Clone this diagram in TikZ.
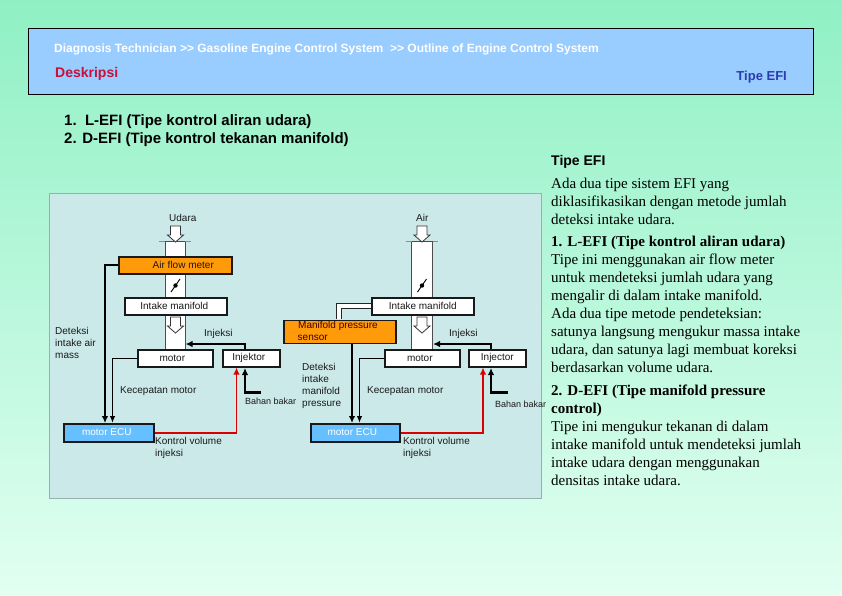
\documentclass[tikz,border=0pt]{standalone}
\usepackage{fontspec}
\setmainfont{Liberation Sans}
\newfontfamily\serifF{Liberation Serif}
\usetikzlibrary{arrows.meta,positioning,calc}
\definecolor{bgtop}{HTML}{90F0C4}
\definecolor{bgbot}{HTML}{E2FFF2}
\definecolor{hdr}{HTML}{99CCFF}
\definecolor{panelc}{HTML}{CCE9EA}
\definecolor{orangeb}{HTML}{FF9A0A}
\definecolor{ecub}{HTML}{66BFFF}
\definecolor{deskc}{HTML}{C8103A}
\definecolor{tipec}{HTML}{2A3CB0}
\tikzset{
 x=1pt,y=-1pt,
 lab/.style={font=\fontsize{10}{12.1}\selectfont,inner sep=0pt,align=left,anchor=north west,text=black!90},
 smalllab/.style={lab,font=\fontsize{9}{10}\selectfont},
 boxw/.style={draw=black!90,line width=1.6pt,fill=white,inner sep=0pt,font=\fontsize{10}{11}\selectfont,text=black!90},
 boxo/.style={boxw,fill=orangeb},
 boxe/.style={boxw,fill=ecub,text=white},
 pipe/.style={draw=black!70,line width=.8pt,fill=white},
 wire/.style={draw=black,line width=1.4pt,-{Latex[length=7pt,width=5.5pt]}},
 wirethick/.style={draw=black,line width=2.2pt,-{Latex[length=7pt,width=6.5pt]}},
 redw/.style={draw=red!85!black,line width=1.8pt,-{Latex[length=7pt,width=6.5pt]}},
 hollow/.style={draw=black!80,line width=.8pt,fill=white},
}
\newcommand{\hollowarrow}[2]{\draw[hollow] ($(#1,#2)+(-5,-9)$) -- ++(10,0) -- ++(0,9) -- ++(3,0) -- ++(-8,7) -- ++(-8,-7) -- ++(3,0) -- cycle;}
\newcommand{\valve}[2]{\draw[black,line width=.9pt] ($(#1,#2)+(-4.5,6.5)$) -- ++(9,-13); \fill[black] (#1,#2) circle (2.2pt);}
\begin{document}
\begin{tikzpicture}
\useasboundingbox (0,0) rectangle (842,595);
\shade[top color=bgtop,bottom color=bgbot] (0,0) rectangle (842,595);
\node[draw=black,line width=.7pt,fill=hdr,minimum width=785pt,minimum height=66pt,inner sep=0pt,anchor=north west] (header) at (28,28) {};
\node[inner sep=0pt,anchor=west,font=\bfseries\fontsize{12}{14}\selectfont,text=white] (crumb) at (54,49.5) {Diagnosis Technician {>}{>} Gasoline Engine Control System\ \ {>}{>} Outline of Engine Control System};
\node[inner sep=0pt,anchor=west,font=\bfseries\fontsize{14}{16}\selectfont,text=deskc] (desk) at (55,74) {Deskripsi};
\node[inner sep=0pt,anchor=east,font=\bfseries\fontsize{13}{16}\selectfont,text=tipec] (tipe1) at (787,77) {Tipe EFI};
\node[inner sep=0pt,anchor=west,font=\bfseries\fontsize{15}{16}\selectfont] (l1) at (64,121.5) {1.\ \ L-EFI (Tipe kontrol aliran udara)};
\node[inner sep=0pt,anchor=west,font=\bfseries\fontsize{15}{16}\selectfont] (l2) at (64,139.5) {2. D-EFI (Tipe kontrol tekanan manifold)};
\node[inner sep=0pt,anchor=west,font=\bfseries\fontsize{14}{16}\selectfont] (tipe2) at (551,162) {Tipe EFI};
\node[inner sep=0pt,anchor=north west,align=left,font=\serifF\fontsize{15}{18}\selectfont] (body) at (551,178) {Ada dua tipe sistem EFI yang\\ diklasifikasikan dengan metode jumlah\\ deteksi intake udara.\\[4pt] \textbf{1. L-EFI (Tipe kontrol aliran udara)}\\ Tipe ini menggunakan air flow meter\\ untuk mendeteksi jumlah udara yang\\ mengalir di dalam intake manifold.\\ Ada dua tipe metode pendeteksian:\\ satunya langsung mengukur massa intake\\ udara, dan satunya lagi membuat koreksi\\ berdasarkan volume udara.\\[5pt] \textbf{2. D-EFI (Tipe manifold pressure}\\ \textbf{control)}\\ Tipe ini mengukur tekanan di dalam\\ intake manifold untuk mendeteksi jumlah\\ intake udara dengan menggunakan\\ densitas intake udara.};
% panel
\node[draw=black!25!panelc,line width=.8pt,fill=panelc,minimum width=492pt,minimum height=305pt,inner sep=0pt,anchor=north west] (panel) at (49,193) {};
% left pipe
\draw[pipe] (165,241) rectangle (185,349);
\draw[black!45,line width=.8pt] (159,241) -- (165,241) (185,241) -- (191,241);
\hollowarrow{175.5}{235}
\valve{175.5}{285.5}
\hollowarrow{175.5}{326}
\node[boxo,minimum width=113pt,minimum height=17pt,anchor=north west] (afm) at (118,256) {\hspace*{16pt}Air flow meter};
\node[boxw,minimum width=102pt,minimum height=17pt,anchor=north west] (im1) at (124,297) {\hspace*{-3pt}Intake manifold};
\node[boxw,minimum width=75pt,minimum height=17pt,anchor=north west] (mot1) at (137,349) {\hspace*{-6pt}\raisebox{1pt}{motor}};
\node[boxw,minimum width=57pt,minimum height=17pt,anchor=north west] (inj1) at (222,349) {\hspace*{-5pt}\raisebox{-1pt}{Injektor}};
\node[boxe,minimum width=90pt,minimum height=18pt,anchor=north west] (ecu1) at (63,423) {\hspace*{-4pt}\raisebox{1pt}{motor ECU}};
\node[lab] (t1) at (169,214) {Udara};
\node[lab] (t2) at (55,327) {Deteksi\\intake air\\mass};
\node[lab] (t3) at (204,329.5) {Injeksi};
\node[lab] (t4) at (120,386.5) {Kecepatan motor};
\node[lab] (t5) at (155,437) {Kontrol volume\\injeksi};
\node[smalllab] (t6) at (245,398) {Bahan bakar};
\coordinate (e1a) at ($(ecu1.north west)+(42,0)$);
\draw[wirethick] (afm.west) -| (e1a);
\coordinate (e1b) at ($(ecu1.north west)+(49.5,0)$);
\draw[wire] (mot1.west) -| (e1b);
\coordinate (i1up) at (245,349);
\coordinate (i1in) at (185.5,344);
\draw[wirethick] (i1up) |- (i1in);
\coordinate (r1) at (236.5,367.5);
\draw[redw] (ecu1.east) -| (r1);
\coordinate (fuel1) at (261,392.5);
\coordinate (inj1b) at (245,368);
\draw[wirethick] (fuel1) -| (inj1b);
% right pipe
\draw[pipe] (411.5,241) rectangle (432.5,349);
\draw[black!45,line width=.8pt] (405.5,241) -- (411.5,241) (432.5,241) -- (438,241);
\hollowarrow{422}{235}
\valve{422}{285.5}
\hollowarrow{422}{326}
\node[boxw,minimum width=102pt,minimum height=17pt,anchor=north west] (im2) at (371,297) {Intake manifold};
\coordinate (tap) at (339,319);
\draw[draw=black!85,line width=5.5pt] (im2.west |- 0,306) -- (339,306) -- (tap);
\draw[draw=white,line width=3.2pt] (im2.west |- 0,306) -- (339,306) -- (tap);
\node[boxo,minimum width=112pt,minimum height=23pt,anchor=north west] (mps) at (283,319.5) {};
\node[lab,text=black!75!red] (mpst) at (298,321) {Manifold pressure\\\hspace*{-0.5pt}sensor};
\node[boxw,minimum width=75pt,minimum height=17pt,anchor=north west] (mot2) at (384,349) {\hspace*{-5pt}\raisebox{1pt}{motor}};
\node[boxw,minimum width=57pt,minimum height=17pt,anchor=north west] (inj2) at (468,349) {\raisebox{-1pt}{Injector}};
\node[boxe,minimum width=89pt,minimum height=18pt,anchor=north west] (ecu2) at (310,423) {\hspace*{-6pt}\raisebox{1pt}{motor ECU}};
\node[lab] (r1t) at (416,214) {Air};
\node[lab] (r2) at (302,363) {Deteksi\\intake\\manifold\\pressure};
\node[lab] (r3) at (449,329.5) {Injeksi};
\node[lab] (r4) at (367,386.5) {Kecepatan motor};
\node[lab] (r5) at (403,437) {Kontrol volume\\injeksi};
\node[smalllab] (r6) at (495,400.5) {Bahan bakar};
\coordinate (e2a) at ($(ecu2.north west)+(42,0)$);
\draw[wirethick] (e2a |- mps.south) -- (e2a);
\coordinate (e2b) at ($(ecu2.north west)+(49.5,0)$);
\draw[wire] (mot2.west) -| (e2b);
\coordinate (i2up) at (491,349);
\coordinate (i2in) at (433,344);
\draw[wirethick] (i2up) |- (i2in);
\coordinate (r2e) at (483,367.5);
\draw[redw] (ecu2.east) -| (r2e);
\coordinate (fuel2) at (507.5,392.5);
\coordinate (inj2b) at (491,368);
\draw[wirethick] (fuel2) -| (inj2b);
\end{tikzpicture}
\end{document}
